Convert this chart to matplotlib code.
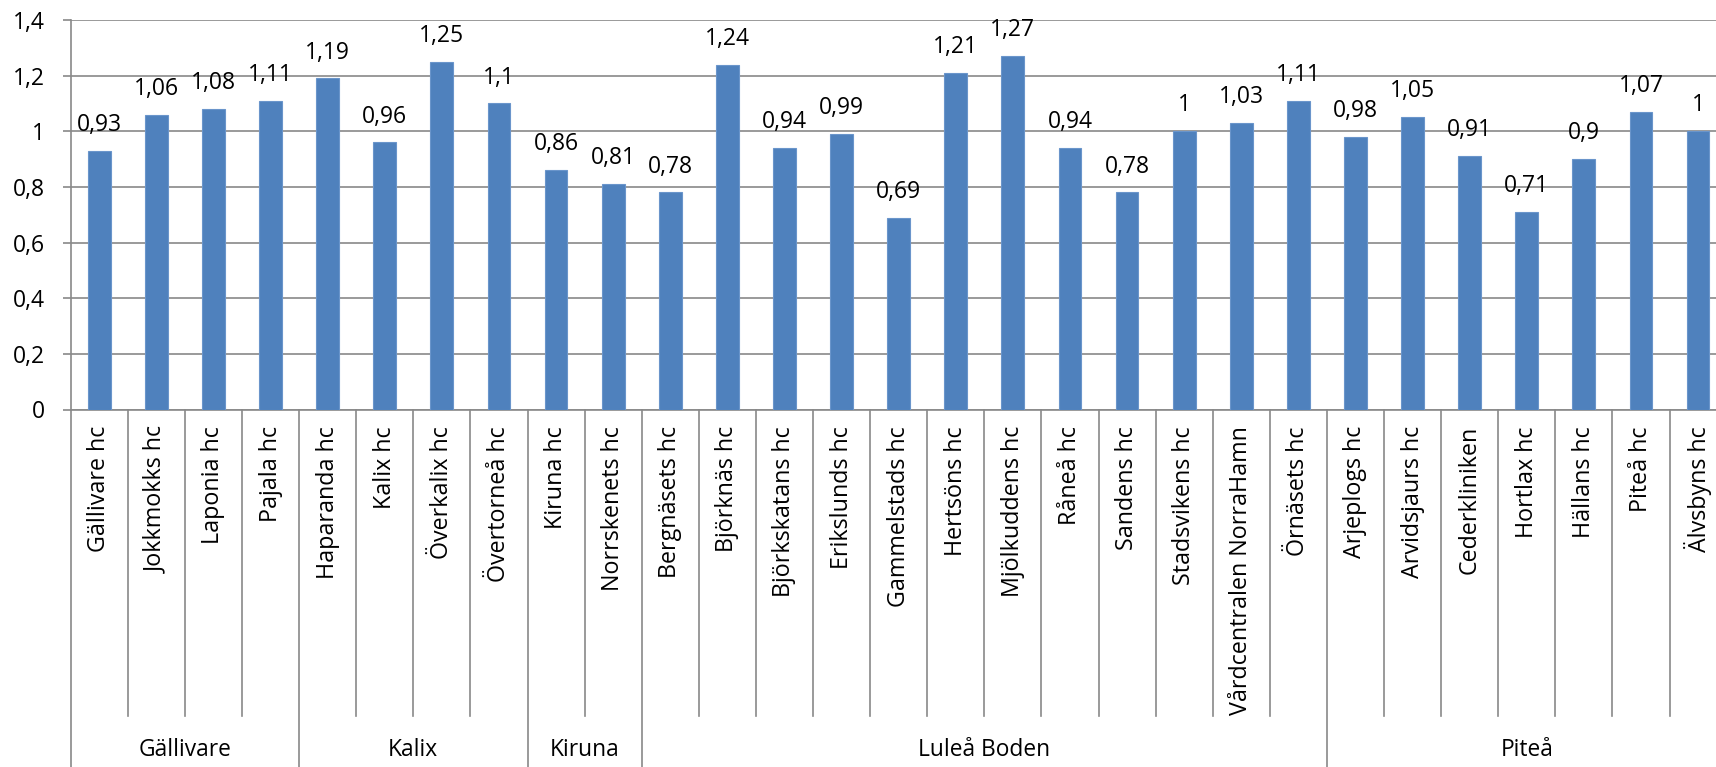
import matplotlib
matplotlib.use("Agg")
import matplotlib.pyplot as plt
import matplotlib.transforms as mtransforms

plt.rcParams['font.family'] = ['Open Sans', 'DejaVu Sans']

# data
categories = [
    "Gällivare hc", "Jokkmokks hc", "Laponia hc", "Pajala hc",
    "Haparanda hc", "Kalix hc", "Överkalix hc", "Övertorneå hc",
    "Kiruna hc", "Norrskenets hc",
    "Bergnäsets hc", "Björknäs hc", "Björkskatans hc", "Erikslunds hc",
    "Gammelstads hc", "Hertsöns hc", "Mjölkuddens hc", "Råneå hc",
    "Sandens hc", "Stadsvikens hc", "Vårdcentralen NorraHamn", "Örnäsets hc",
    "Arjeplogs hc", "Arvidsjaurs hc", "Cederkliniken", "Hortlax hc",
    "Hällans hc", "Piteå hc", "Älvsbyns hc",
]
values = [0.93, 1.06, 1.08, 1.11,
          1.19, 0.96, 1.25, 1.1,
          0.86, 0.81,
          0.78, 1.24, 0.94, 0.99, 0.69, 1.21, 1.27, 0.94, 0.78, 1, 1.03, 1.11,
          0.98, 1.05, 0.91, 0.71, 0.9, 1.07, 1]
groups = ["Gällivare", "Kalix", "Kiruna", "Luleå Boden", "Piteå"]
group_sizes = [4, 4, 2, 12, 7]
yticks = [0, 0.2, 0.4, 0.6, 0.8, 1.0, 1.2, 1.4]


def sv(v):
    return f"{v:g}".replace('.', ',')


W, H = 1716, 767
fig = plt.figure(figsize=(W / 100, H / 100), dpi=100)
x0, y0, ytop = 70.7, 409.5, 20
cat_w = 57.1
n = len(categories)
ax = fig.add_axes([x0 / W, (H - y0) / H, n * cat_w / W, (y0 - ytop) / H])

grid_col = '#898989'
bar_col = '#4F81BD'

# pick font sizes so the text spans about the same pixels as in the reference
renderer = fig.canvas.get_renderer()


def fit_size(s, target_px, rotation=0):
    t = fig.text(0, 0, s, fontsize=20, rotation=rotation)
    bb = t.get_window_extent(renderer)
    t.remove()
    span = bb.height if rotation else bb.width
    return 20 * target_px / span


fs_cat = fit_size("Vårdcentralen NorraHamn", 287, rotation=90)
fs_num = fit_size("0,93", 45)
fs_grp = fit_size("Luleå Boden", 132)

ax.bar(range(n), values, width=0.4, color=bar_col, edgecolor='#6A95CB', linewidth=0.8, zorder=3)
ax.set_xlim(-0.5, n - 0.5)
ax.set_ylim(0, 1.4)
ax.set_yticks(yticks)
ax.set_yticklabels([sv(t) for t in yticks], fontsize=fs_num)
ax.yaxis.grid(True, color=grid_col, linewidth=1.2)
ax.set_axisbelow(True)
ax.tick_params(axis='y', length=6, width=1.2, color=grid_col, pad=12.5)
ax.set_xticks([])
for s in ['top', 'right']:
    ax.spines[s].set_visible(False)
for s in ['left', 'bottom']:
    ax.spines[s].set_color(grid_col)
    ax.spines[s].set_linewidth(1.2)

# value labels
for i, v in enumerate(values):
    ax.annotate(sv(v), (i, v), xytext=(0, 10), textcoords='offset points',
                ha='center', va='bottom', fontsize=fs_num)

# category axis (two levels)
trans = mtransforms.blended_transform_factory(ax.transData, ax.transAxes)
inner_bottom = -(716 - y0) / (y0 - ytop)
outer_bottom = -(H - y0) / (y0 - ytop)
label_top = -(426 - y0) / (y0 - ytop)
group_y = -(750 - y0) / (y0 - ytop)

ax.plot([-0.5, -0.5], [0, outer_bottom], color=grid_col, lw=1.2, transform=trans, clip_on=False)
bounds = [0]
for g in group_sizes:
    bounds.append(bounds[-1] + g)
for i in range(1, n + 1):
    yb = outer_bottom if i in bounds else inner_bottom
    ax.plot([i - 0.5, i - 0.5], [0, yb], color=grid_col, lw=1.2, transform=trans, clip_on=False)

for i, c in enumerate(categories):
    ax.text(i, label_top, c, rotation=90, ha='center', va='top', fontsize=fs_cat,
            transform=trans)

for g, a, b in zip(groups, bounds[:-1], bounds[1:]):
    ax.text((a + b - 1) / 2, group_y, g, ha='center', va='center', fontsize=fs_grp,
            transform=trans)

fig.savefig('out.png', dpi=100)
